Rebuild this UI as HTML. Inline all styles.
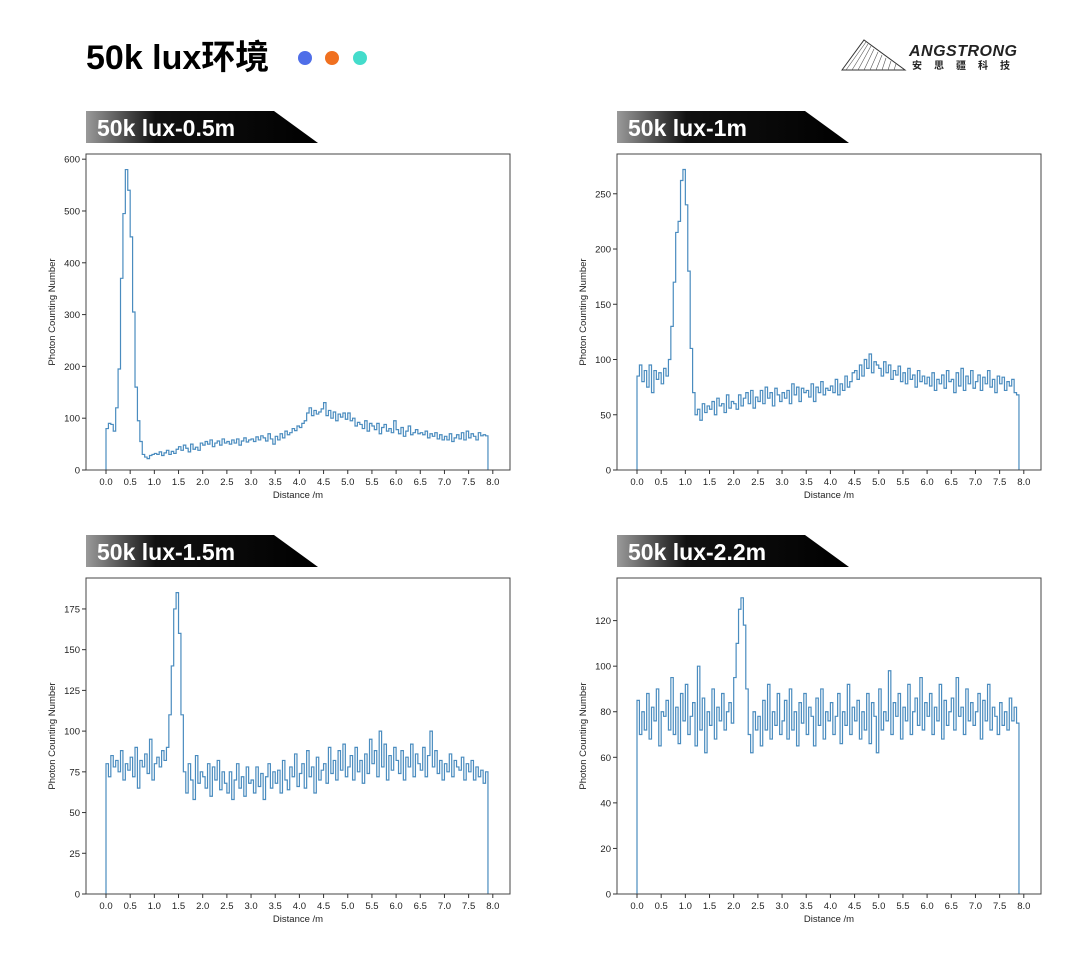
<!DOCTYPE html>
<html><head><meta charset="utf-8">
<style>
body{margin:0;background:#fff;width:1080px;height:969px;overflow:hidden;font-family:"Liberation Sans","Noto Sans CJK SC",sans-serif;}
svg{display:block}
</style></head>
<body>
<svg id="root" width="1080" height="969" viewBox="0 0 1080 969" xmlns="http://www.w3.org/2000/svg">
<defs>
<linearGradient id="bg" x1="0" x2="1" y1="0" y2="0">
<stop offset="0" stop-color="#9a9a9a"/><stop offset="0.3" stop-color="#111"/><stop offset="1" stop-color="#000"/>
</linearGradient>
</defs>
<text x="86" y="69" font-size="34" font-weight="bold" fill="#000" font-family="'Liberation Sans','Noto Sans CJK SC',sans-serif">50k lux环境</text>
<circle cx="305" cy="58" r="7" fill="#4f6ee8"/>
<circle cx="332" cy="58" r="7" fill="#f07020"/>
<circle cx="360" cy="58" r="7" fill="#44dccb"/>
<g>
<polygon points="842,70 864,40 905,70" fill="none" stroke="#333" stroke-width="1"/>
<path d="M846,70 L866,42 M852,70 L868,44 M858,70 L871,46 M864,70 L874,49 M870,70 L878,52 M876,70 L882,55 M882,70 L886,58 M888,70 L891,61 M894,70 L896,64" stroke="#555" stroke-width="0.6"/>
<text x="909" y="56" font-size="16" font-weight="bold" font-style="italic" fill="#222" letter-spacing="0.5">ANGSTRONG</text>
<text x="912" y="69" font-size="10" font-weight="bold" fill="#222" letter-spacing="12" font-family="'Noto Sans CJK SC',sans-serif">安思疆科技</text>
</g>
</svg>
<script>
var xTicks=["0.0","0.5","1.0","1.5","2.0","2.5","3.0","3.5","4.0","4.5","5.0","5.5","6.0","6.5","7.0","7.5","8.0"];
var binWidth=0.05;
var titles=["50k lux-0.5m","50k lux-1m","50k lux-1.5m","50k lux-2.2m"];
var yTicks1=[0,100,200,300,400,500,600];
var yTicks2=[0,50,100,150,200,250];
var yTicks3=[0,25,50,75,100,125,150,175];
var yTicks4=[0,20,40,60,80,100,120];
var yMax=[610,286,194,138.7];
var series1=[80,90,88,75,120,195,370,495,580,540,450,305,160,95,55,30,25,22,28,30,
32,30,35,28,33,38,30,36,32,40,
45,38,48,42,35,50,40,44,38,52,
48,55,50,58,45,52,56,48,60,52,
55,50,58,52,60,48,56,62,54,58,
60,55,64,58,66,62,56,70,60,50,
65,58,70,62,75,68,72,80,76,85,
82,90,95,110,120,105,115,108,112,118,
130,105,115,100,112,95,108,102,110,98,
110,95,100,85,92,88,80,95,75,90,
85,78,90,70,82,88,75,80,72,95,
78,70,82,65,75,85,68,72,78,70,
72,68,75,62,70,65,72,60,68,58,
65,58,70,55,62,68,60,72,58,75,
62,70,65,58,72,66,68,66];
var series2=[85,95,80,90,75,95,70,90,82,88,78,92,85,100,130,170,215,225,262,272,
240,180,110,70,50,55,45,60,52,58,
55,62,50,65,58,60,52,68,56,62,
60,55,68,58,65,70,60,72,56,66,
62,72,60,75,65,70,58,74,68,62,
70,65,72,60,78,68,75,62,74,70,
72,66,78,62,75,70,80,68,74,72,
76,70,82,68,78,72,85,75,80,88,
90,82,95,85,100,92,105,88,98,95,
92,85,98,88,95,82,90,86,94,80,
88,78,92,82,86,75,90,80,85,78,
84,76,88,72,82,78,86,74,90,80,
82,70,88,76,92,72,85,78,90,74,
80,86,72,84,78,90,75,82,70,85,
78,84,72,80,76,82,70,68];
var series3=[80,72,85,78,82,75,88,70,80,76,84,72,90,65,82,78,86,74,95,70,80,84,78,88,82,90,110,140,175,185,
160,110,75,62,80,70,58,85,68,75,
72,65,80,60,78,70,82,64,75,68,
62,75,58,70,80,65,72,60,78,68,
70,62,78,66,74,58,72,80,65,75,
68,76,62,82,70,64,78,72,86,66,
74,80,65,88,72,78,62,84,70,76,
80,68,90,74,82,70,88,76,92,72,
78,85,70,90,75,82,68,86,74,95,
80,88,72,100,78,92,70,85,76,90,
82,74,88,70,84,78,92,72,86,80,
76,90,72,85,100,78,88,74,82,70,
80,75,86,72,82,78,76,84,70,80,
75,82,70,78,72,76,68,75];
var series4=[85,70,80,72,88,68,82,76,90,65,80,78,85,72,95,70,82,66,88,76,92,70,78,84,65,100,72,86,62,80,74,90,68,82,76,88,72,80,84,75,
95,110,125,130,118,90,70,62,80,72,
78,65,85,72,92,68,80,74,88,70,
76,85,68,90,72,80,65,84,75,88,
70,82,78,65,86,74,90,68,80,76,
84,70,78,88,66,80,74,92,70,82,
76,85,68,80,72,88,66,84,78,62,
90,72,80,76,98,70,84,78,88,68,
82,76,92,70,80,86,74,95,72,84,
78,88,70,82,76,92,68,85,74,80,
86,72,95,78,82,70,90,76,84,74,
80,88,68,85,76,92,72,82,78,70,
84,74,80,72,86,76,82,75];

var NS="http://www.w3.org/2000/svg";
var root=document.getElementById('root');
function mk(tag,attrs,parent){var e=document.createElementNS(NS,tag);for(var k in attrs)e.setAttribute(k,attrs[k]);(parent||root).appendChild(e);return e;}
var panels=[{bx:86,by:154,s:series1,yt:yTicks1},{bx:617,by:154,s:series2,yt:yTicks2},{bx:86,by:578,s:series3,yt:yTicks3},{bx:617,by:578,s:series4,yt:yTicks4}];
panels.forEach(function(p,i){
  var g=mk('g',{});
  
  
  var W=424,H=316,bottom=p.by+H;
  var xs=function(v){return p.bx+20+v*48.35;};
  var ys=function(v){return bottom-v*H/yMax[i];};
  var bx=p.bx,byy=p.by-43;
  var ban=mk('polygon',{points:bx+','+byy+' '+(bx+188)+','+byy+' '+(bx+232)+','+(byy+32)+' '+bx+','+(byy+32),fill:'url(#bg)'},g);
  
  
  var bt=mk('text',{x:bx+11,y:byy+25,'font-size':'23','font-weight':'bold',fill:'#fff'},g);
  bt.textContent=titles[i];
  
  
  var d='M'+xs(0)+','+bottom;
  p.s.forEach(function(v,k){var x0=xs(k*binWidth),x1=xs((k+1)*binWidth),y=ys(v);d+=' L'+x0+','+y+' L'+x1+','+y;});
  d+=' L'+xs(p.s.length*binWidth)+','+bottom;
  var ln=mk('path',{d:d,fill:'none',stroke:'#4a8cbf','stroke-width':'1.2'},g);
  
  
  var box=mk('rect',{x:p.bx,y:p.by,width:W,height:H,fill:'none',stroke:'#444','stroke-width':'1'},g);
  
  
  xTicks.forEach(function(t){
    var x=xs(parseFloat(t));
    mk('line',{x1:x,x2:x,y1:bottom,y2:bottom+4,stroke:'#333'},g);
    var tx=mk('text',{x:x,y:bottom+15,'font-size':'9.5','text-anchor':'middle',fill:'#222'},g);
    tx.textContent=t;
    
    
  });
  p.yt.forEach(function(t){
    var y=ys(t);
    mk('line',{x1:p.bx-4,x2:p.bx,y1:y,y2:y,stroke:'#333'},g);
    var ty=mk('text',{x:p.bx-6,y:y+3.5,'font-size':'9.5','text-anchor':'end',fill:'#222'},g);
    ty.textContent=t;
    
    
  });
  var xl=mk('text',{x:p.bx+W/2,y:bottom+28,'font-size':'9.5','text-anchor':'middle',fill:'#222'},g);
  xl.textContent='Distance /m';
  
  
  var yl=mk('text',{x:0,y:0,'font-size':'9.5','text-anchor':'middle',fill:'#222',transform:'translate('+(p.bx-31)+','+(p.by+H/2)+') rotate(-90)'},g);
  yl.textContent='Photon Counting Number';
  
  
});
</script>
</body></html>
